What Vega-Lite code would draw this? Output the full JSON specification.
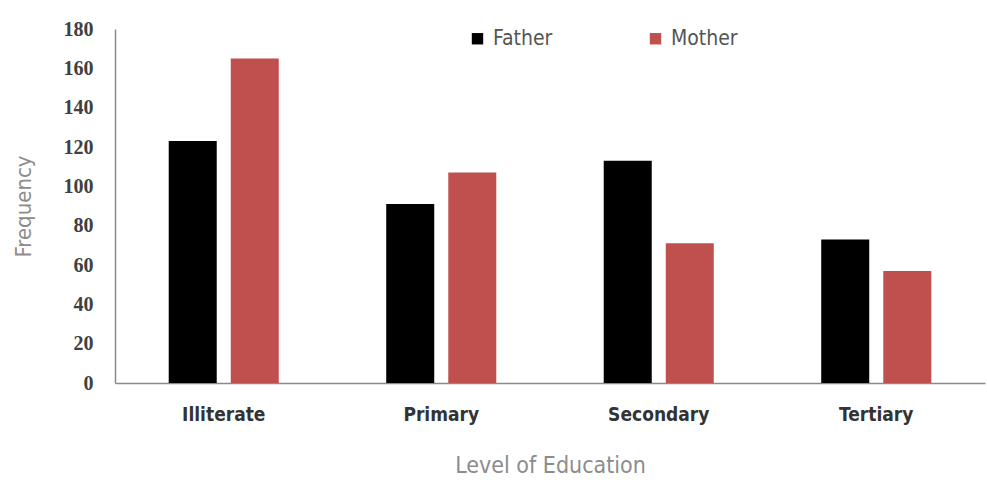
{
  "$schema": "https://vega.github.io/schema/vega-lite/v6.json",
  "width": 870,
  "height": 354,
  "autosize": "none",
  "padding": {"left": 115, "top": 29, "right": 2, "bottom": 101},
  "background": "white",
  "config": {"view": {"stroke": null}},
  "data": {
    "values": [
      {"level": "Illiterate", "parent": "Father", "frequency": 123},
      {"level": "Illiterate", "parent": "Mother", "frequency": 165},
      {"level": "Primary", "parent": "Father", "frequency": 91},
      {"level": "Primary", "parent": "Mother", "frequency": 107},
      {"level": "Secondary", "parent": "Father", "frequency": 113},
      {"level": "Secondary", "parent": "Mother", "frequency": 71},
      {"level": "Tertiary", "parent": "Father", "frequency": 73},
      {"level": "Tertiary", "parent": "Mother", "frequency": 57}
    ]
  },
  "mark": {"type": "bar"},
  "encoding": {
    "x": {
      "field": "level",
      "type": "nominal",
      "sort": ["Illiterate", "Primary", "Secondary", "Tertiary"],
      "scale": {"paddingInner": 0.494, "paddingOuter": 0.247},
      "axis": {
        "title": "Level of Education",
        "labelAngle": 0,
        "labelFont": "Liberation Sans Narrow, DejaVu Sans Condensed, sans-serif",
        "labelFontSize": 19,
        "labelFontWeight": "bold",
        "labelColor": "#333333",
        "labelPadding": 22,
        "ticks": false,
        "domainColor": "#8a8a8a",
        "domainWidth": 1.5,
        "titleFont": "Liberation Sans Narrow, DejaVu Sans Condensed, sans-serif",
        "titleFontSize": 23,
        "titleFontWeight": "normal",
        "titleColor": "#8c8c8c",
        "titlePadding": 30
      }
    },
    "xOffset": {
      "field": "parent",
      "type": "nominal",
      "scale": {"paddingInner": 0.226, "paddingOuter": 0}
    },
    "y": {
      "field": "frequency",
      "type": "quantitative",
      "scale": {"domain": [0, 180], "nice": false},
      "axis": {
        "title": "Frequency",
        "values": [0, 20, 40, 60, 80, 100, 120, 140, 160, 180],
        "grid": false,
        "ticks": false,
        "labelFont": "Liberation Serif, serif",
        "labelFontSize": 20,
        "labelFontWeight": "bold",
        "labelColor": "#404040",
        "labelPadding": 22,
        "domainColor": "#8a8a8a",
        "domainWidth": 1.5,
        "titleFont": "Liberation Sans Narrow, DejaVu Sans Condensed, sans-serif",
        "titleFontSize": 22,
        "titleFontWeight": "normal",
        "titleColor": "#8c8c8c",
        "titlePadding": 28
      }
    },
    "color": {
      "field": "parent",
      "type": "nominal",
      "scale": {"domain": ["Father", "Mother"], "range": ["#000000", "#c0504d"]},
      "legend": {
        "title": null,
        "orient": "none",
        "legendX": 352,
        "legendY": -1,
        "direction": "horizontal",
        "symbolType": "square",
        "symbolSize": 130,
        "symbolStrokeWidth": 0,
        "labelFont": "Liberation Sans Narrow, DejaVu Sans Condensed, sans-serif",
        "labelFontSize": 21,
        "labelColor": "#555555",
        "labelOffset": 5,
        "columnPadding": 92
      }
    }
  }
}
